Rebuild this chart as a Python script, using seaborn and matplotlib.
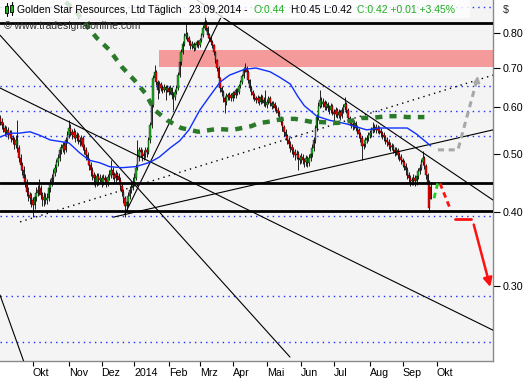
import numpy as np
import pandas as pd
import matplotlib
matplotlib.use("Agg")
import matplotlib.pyplot as plt
import seaborn as sns
from matplotlib.patches import Rectangle

# ---------------- data ----------------
closes = [
0.567,0.561,0.554,0.546,0.550,0.539,0.543,0.533,0.529,0.519,
0.529,0.513,0.493,0.480,0.471,0.457,0.449,0.432,0.427,0.422,
0.419,0.411,0.424,0.431,0.436,0.439,0.427,0.419,0.424,0.419,
0.422,0.439,0.448,0.457,0.466,0.475,0.485,0.493,0.509,0.513,
0.519,0.509,0.529,0.539,0.554,0.546,0.539,0.546,0.533,0.539,
0.529,0.525,0.533,0.515,0.509,0.499,0.489,0.480,0.471,0.462,
0.457,0.449,0.460,0.453,0.457,0.449,0.457,0.453,0.448,0.458,
0.462,0.471,0.462,0.457,0.464,0.460,0.453,0.442,0.432,0.422,
0.410,0.416,0.426,0.436,0.441,0.449,0.457,0.475,0.495,0.509,
0.505,0.497,0.501,0.509,0.505,0.529,0.561,0.606,0.672,0.689,
0.662,0.642,0.657,0.647,0.642,0.649,0.642,0.647,0.637,0.647,
0.629,0.625,0.637,0.647,0.680,0.715,0.744,0.767,0.791,0.797,
0.785,0.773,0.761,0.767,0.756,0.764,0.773,0.764,0.779,0.794,
0.816,0.836,0.816,0.794,0.785,0.773,0.764,0.744,0.721,0.699,
0.672,0.647,0.637,0.622,0.613,0.629,0.625,0.629,0.622,0.634,
0.629,0.642,0.637,0.652,0.662,0.677,0.694,0.699,0.689,0.667,
0.647,0.637,0.629,0.622,0.618,0.622,0.613,0.625,0.618,0.611,
0.606,0.613,0.622,0.611,0.604,0.608,0.599,0.594,0.587,0.576,
0.567,0.556,0.546,0.537,0.529,0.521,0.515,0.509,0.505,0.499,
0.501,0.493,0.489,0.495,0.489,0.485,0.493,0.484,0.493,0.501,
0.513,0.529,0.554,0.578,0.604,0.618,0.608,0.613,0.601,0.608,
0.599,0.594,0.604,0.590,0.585,0.594,0.583,0.590,0.580,0.594,
0.601,0.608,0.594,0.576,0.567,0.563,0.558,0.565,0.554,0.550,
0.541,0.533,0.517,0.521,0.529,0.533,0.539,0.543,0.550,0.554,
0.556,0.550,0.554,0.548,0.543,0.539,0.535,0.529,0.525,0.519,
0.515,0.517,0.509,0.505,0.509,0.499,0.495,0.489,0.485,0.478,
0.471,0.462,0.457,0.451,0.453,0.457,0.451,0.460,0.469,0.475,
0.485,0.493,0.478,0.462,0.449,0.406,0.420]

opens = [
0.575,0.567,0.561,0.554,0.546,0.550,0.539,0.543,0.533,0.529,
0.519,0.529,0.513,0.493,0.480,0.471,0.457,0.449,0.432,0.427,
0.422,0.419,0.411,0.424,0.431,0.436,0.439,0.427,0.419,0.424,
0.419,0.422,0.439,0.448,0.457,0.466,0.475,0.485,0.493,0.509,
0.513,0.519,0.509,0.529,0.539,0.554,0.546,0.539,0.546,0.533,
0.539,0.529,0.525,0.533,0.515,0.509,0.499,0.489,0.480,0.471,
0.462,0.457,0.449,0.460,0.453,0.457,0.449,0.457,0.453,0.448,
0.458,0.462,0.471,0.462,0.457,0.464,0.460,0.453,0.442,0.432,
0.422,0.410,0.416,0.426,0.436,0.441,0.449,0.457,0.475,0.495,
0.509,0.505,0.497,0.501,0.509,0.505,0.529,0.561,0.606,0.672,
0.689,0.662,0.642,0.657,0.647,0.642,0.649,0.642,0.647,0.637,
0.647,0.629,0.625,0.637,0.647,0.680,0.715,0.744,0.767,0.791,
0.797,0.785,0.773,0.761,0.767,0.756,0.764,0.773,0.764,0.779,
0.794,0.816,0.836,0.816,0.794,0.785,0.773,0.764,0.744,0.721,
0.699,0.672,0.647,0.637,0.622,0.613,0.629,0.625,0.629,0.622,
0.634,0.629,0.642,0.637,0.652,0.662,0.677,0.694,0.699,0.689,
0.667,0.647,0.637,0.629,0.622,0.618,0.622,0.613,0.625,0.618,
0.611,0.606,0.613,0.622,0.611,0.604,0.608,0.599,0.594,0.587,
0.576,0.567,0.556,0.546,0.537,0.529,0.521,0.515,0.509,0.505,
0.499,0.501,0.493,0.489,0.495,0.489,0.485,0.493,0.484,0.493,
0.501,0.513,0.529,0.554,0.578,0.604,0.618,0.608,0.613,0.601,
0.608,0.599,0.594,0.604,0.590,0.585,0.594,0.583,0.590,0.580,
0.594,0.601,0.608,0.594,0.576,0.567,0.563,0.558,0.565,0.554,
0.550,0.541,0.533,0.517,0.521,0.529,0.533,0.539,0.543,0.550,
0.554,0.556,0.550,0.554,0.548,0.543,0.539,0.535,0.529,0.525,
0.519,0.515,0.517,0.509,0.505,0.509,0.499,0.495,0.489,0.485,
0.478,0.471,0.462,0.457,0.451,0.453,0.457,0.451,0.460,0.469,
0.475,0.485,0.493,0.478,0.462,0.449,0.440]

highs = [
0.582,0.575,0.568,0.560,0.558,0.556,0.550,0.549,0.540,0.535,
0.540,0.571,0.518,0.500,0.486,0.478,0.463,0.455,0.440,0.433,
0.430,0.424,0.430,0.440,0.445,0.455,0.444,0.432,0.432,0.430,
0.430,0.445,0.455,0.463,0.472,0.482,0.492,0.500,0.515,0.520,
0.525,0.524,0.535,0.548,0.571,0.562,0.552,0.553,0.550,0.545,
0.544,0.535,0.540,0.537,0.520,0.514,0.504,0.494,0.486,0.476,
0.468,0.463,0.466,0.465,0.463,0.462,0.463,0.462,0.458,0.464,
0.470,0.490,0.476,0.468,0.470,0.468,0.465,0.458,0.447,0.437,
0.426,0.422,0.432,0.442,0.450,0.458,0.465,0.482,0.529,0.515,
0.515,0.510,0.508,0.515,0.515,0.535,0.567,0.612,0.680,0.707,
0.695,0.668,0.664,0.662,0.655,0.656,0.655,0.654,0.652,0.654,
0.650,0.636,0.644,0.655,0.688,0.722,0.752,0.775,0.800,0.836,
0.803,0.790,0.779,0.775,0.772,0.771,0.780,0.778,0.786,0.802,
0.825,0.858,0.842,0.822,0.800,0.790,0.779,0.768,0.748,0.725,
0.704,0.676,0.652,0.642,0.628,0.635,0.635,0.636,0.634,0.640,
0.640,0.648,0.648,0.658,0.668,0.684,0.702,0.714,0.704,0.693,
0.671,0.652,0.642,0.634,0.628,0.630,0.627,0.631,0.630,0.624,
0.642,0.620,0.628,0.627,0.616,0.615,0.612,0.605,0.600,0.592,
0.581,0.572,0.561,0.551,0.542,0.534,0.527,0.520,0.515,0.510,
0.508,0.506,0.499,0.502,0.500,0.494,0.499,0.497,0.500,0.508,
0.520,0.536,0.560,0.585,0.612,0.642,0.625,0.622,0.618,0.616,
0.612,0.605,0.611,0.608,0.596,0.600,0.598,0.597,0.595,0.600,
0.608,0.625,0.612,0.598,0.581,0.573,0.568,0.571,0.569,0.560,
0.555,0.546,0.537,0.528,0.535,0.540,0.546,0.550,0.557,0.566,
0.563,0.562,0.560,0.559,0.553,0.548,0.545,0.540,0.534,0.530,
0.525,0.523,0.521,0.514,0.515,0.512,0.504,0.500,0.494,0.490,
0.483,0.476,0.467,0.462,0.459,0.463,0.461,0.466,0.475,0.482,
0.491,0.507,0.497,0.482,0.466,0.452,0.450]

lows = [
0.560,0.552,0.545,0.538,0.540,0.530,0.532,0.525,0.520,0.510,
0.512,0.505,0.485,0.470,0.462,0.450,0.440,0.425,0.418,0.412,
0.408,0.392,0.405,0.418,0.425,0.428,0.420,0.410,0.410,0.412,
0.413,0.418,0.432,0.442,0.450,0.460,0.468,0.478,0.488,0.500,
0.505,0.500,0.504,0.522,0.532,0.538,0.530,0.532,0.525,0.527,
0.520,0.517,0.518,0.508,0.500,0.490,0.480,0.470,0.460,0.452,
0.445,0.440,0.443,0.445,0.447,0.440,0.444,0.446,0.440,0.442,
0.452,0.456,0.455,0.450,0.450,0.453,0.446,0.435,0.425,0.414,
0.392,0.400,0.410,0.420,0.430,0.435,0.442,0.452,0.470,0.488,
0.495,0.488,0.490,0.494,0.496,0.500,0.522,0.555,0.600,0.665,
0.655,0.620,0.635,0.640,0.634,0.636,0.618,0.636,0.630,0.631,
0.620,0.594,0.618,0.632,0.642,0.675,0.708,0.738,0.760,0.783,
0.776,0.765,0.752,0.754,0.748,0.749,0.758,0.756,0.758,0.772,
0.788,0.810,0.808,0.786,0.777,0.765,0.755,0.736,0.713,0.690,
0.664,0.638,0.628,0.613,0.587,0.606,0.617,0.618,0.614,0.616,
0.622,0.623,0.630,0.632,0.646,0.656,0.672,0.688,0.682,0.660,
0.640,0.630,0.620,0.614,0.610,0.611,0.605,0.607,0.611,0.603,
0.600,0.599,0.607,0.604,0.596,0.598,0.592,0.587,0.580,0.569,
0.560,0.548,0.538,0.529,0.521,0.512,0.505,0.500,0.496,0.490,
0.492,0.471,0.481,0.483,0.482,0.477,0.479,0.477,0.478,0.487,
0.496,0.507,0.523,0.548,0.572,0.598,0.600,0.601,0.594,0.595,
0.591,0.586,0.588,0.582,0.570,0.578,0.575,0.576,0.572,0.575,
0.588,0.595,0.587,0.569,0.560,0.555,0.550,0.551,0.547,0.542,
0.533,0.524,0.489,0.510,0.514,0.523,0.526,0.532,0.536,0.543,
0.546,0.543,0.544,0.541,0.536,0.531,0.527,0.521,0.517,0.511,
0.507,0.508,0.502,0.497,0.498,0.492,0.487,0.481,0.477,0.470,
0.462,0.454,0.448,0.443,0.444,0.445,0.443,0.445,0.455,0.463,
0.470,0.480,0.472,0.455,0.442,0.400,0.420]

# moving averages (trading-day index, price)
blue_idx = [0, 6, 12, 19, 25, 32, 40, 44, 51, 57, 64, 70, 78, 87, 96, 102, 109, 115, 121, 128,
            134, 141, 147, 157, 164, 173, 179, 186, 191, 195, 203, 211, 222, 235, 243, 252, 261, 267, 273, 276]
blue_val = [0.535, 0.543, 0.543, 0.546, 0.539, 0.529, 0.525, 0.523, 0.503, 0.489, 0.484, 0.477, 0.475, 0.477,
            0.485, 0.495, 0.513, 0.527, 0.550, 0.594, 0.625, 0.662, 0.680, 0.696, 0.699, 0.689, 0.675, 0.657,
            0.625, 0.604, 0.580, 0.571, 0.563, 0.550, 0.554, 0.554, 0.554, 0.541, 0.525, 0.517]
green_idx = [42, 49, 56, 62, 70, 78, 86, 93, 99, 107, 116, 127, 139, 149, 155, 161, 166, 171, 177, 182,
             189, 194, 200, 205, 216, 221, 227, 232, 238, 243, 249, 255, 261, 266, 272]
green_val = [0.903, 0.868, 0.820, 0.785, 0.750, 0.702, 0.667, 0.634, 0.594, 0.571, 0.554, 0.546, 0.552,
             0.550, 0.554, 0.558, 0.565, 0.567, 0.571, 0.574, 0.574, 0.571, 0.567, 0.567, 0.565, 0.567,
             0.571, 0.576, 0.576, 0.578, 0.580, 0.580, 0.578, 0.578, 0.578]

# horizontal levels
grid_levels = [0.886, 0.652, 0.592, 0.537, 0.394, 0.289, 0.242]
thick_levels = [0.833, 0.448, 0.401]
band_low, band_high, band_start = 0.702, 0.750, 101.8

# trend lines: ((idx0, price0), (idx1, price1))
trend_lines = [((-0.16, 0.647), (316.0, 0.253)),
               ((-0.16, 0.794), (185.8, 0.228)),
               ((126.2, 0.910), (316.0, 0.419)),
               ((80.0, 0.397), (142.2, 0.858)),
               ((72.3, 0.392), (316.0, 0.550)),
               ((-0.16, 0.290), (15.9, 0.221))]
dotted_line = ((12.7, 0.385), (316.0, 0.680))

# projections
grey_path_x = [280.7, 293.5, 306.0]
grey_path_y = [0.509, 0.509, 0.672]
green_proj_x = [278.2, 280.7]
green_proj_y = [0.422, 0.449]
red_proj_x = [282.0, 288.4]
red_proj_y = [0.447, 0.406]
red_level_x = [291.6, 301.9]
red_level_y = 0.389
red_arrow = ((303.2, 0.385), (314.7, 0.296))

HOLIDAYS = ["2013-12-25", "2014-01-01"]
month_starts = ["2013-10-01", "2013-11-01", "2013-12-01", "2014-01-01", "2014-02-01", "2014-03-01",
                "2014-04-01", "2014-05-01", "2014-06-01", "2014-07-01", "2014-08-01", "2014-09-01", "2014-10-01"]
month_labels = ["Okt", "Nov", "Dez", "2014", "Feb", "Mrz", "Apr", "Mai", "Jun", "Jul", "Aug", "Sep", "Okt"]
y_ticks = [0.30, 0.40, 0.50, 0.60, 0.70, 0.80]

# ---------------- plot ----------------
sns.set_style("white")
plt.rcParams['font.family'] = ['Liberation Sans', 'DejaVu Sans']
FS = 7.7
HFS = 7.45

W, H = 530, 380
fig = plt.figure(figsize=(W / 100, H / 100), dpi=100)
fig.patch.set_facecolor("white")
ax = fig.add_axes([0, 19 / H, 493 / W, 361 / H])
ax.set_facecolor("#f4f4f4")
ax.set_yscale("log")
ax.set_xlim(-0.16, 316.0)
ax.set_ylim(0.2245, 0.910)

# band
ax.add_patch(Rectangle((band_start, band_low), 400, band_high - band_low,
                       facecolor="#f59a9a", edgecolor="none", zorder=1))
# grid levels
for lv in grid_levels:
    ax.axhline(lv, color="#1a2fff", lw=1.0, ls=(0, (1, 3)), zorder=1.5)
for lv in thick_levels:
    ax.axhline(lv, color="black", lw=2.0, zorder=6)

# trend lines
for (x0, y0), (x1, y1) in trend_lines:
    ax.plot([x0, x1], [y0, y1], color="black", lw=0.8, zorder=5)
(x0, y0), (x1, y1) = dotted_line
ax.plot([x0, x1], [y0, y1], color="black", lw=1.0, ls=(0, (1, 3)), zorder=5)

# candles
o, h, l, c = map(np.array, (opens, highs, lows, closes))
x = np.arange(len(c))
up = c >= o
ax.vlines(x, l, h, color="black", lw=0.6, zorder=3)
ax.bar(x[up], np.maximum((c - o)[up], 0.002), bottom=o[up], width=0.9,
       color="#1fb51f", edgecolor="black", lw=0.25, zorder=4)
ax.bar(x[~up], (o - c)[~up], bottom=c[~up], width=0.9,
       color="#ff0000", edgecolor="black", lw=0.25, zorder=4)

# moving averages
sns.lineplot(x=blue_idx, y=blue_val, ax=ax, color="#1030ff", lw=1.0, zorder=7)
sns.lineplot(x=green_idx, y=green_val, ax=ax, color="#2a7a2a", lw=3.2,
             linestyle=(0, (1.6, 1.6)), zorder=7)

# projections
ax.plot(grey_path_x, grey_path_y, color="#a8a8a8", lw=2.2, ls=(0, (2, 1.5)), zorder=7)
ax.annotate("", xy=(grey_path_x[-1] + 0.3, grey_path_y[-1] * 1.02),
            xytext=(grey_path_x[-1] - 0.3, grey_path_y[-1] * 0.985),
            arrowprops=dict(arrowstyle="-|>", color="#a8a8a8", lw=1.5, mutation_scale=9), zorder=7)
ax.plot(green_proj_x, green_proj_y, color="#22cc22", lw=2.0, ls=(0, (2, 1.5)), zorder=7)
ax.plot(red_proj_x, red_proj_y, color="#ff1010", lw=2.0, ls=(0, (2, 1.5)), zorder=7)
ax.plot(red_level_x, [red_level_y] * 2, color="#ff1010", lw=2.0, zorder=7)
ax.annotate("", xy=red_arrow[1], xytext=red_arrow[0],
            arrowprops=dict(arrowstyle="-|>", color="#ff1010", lw=1.8, mutation_scale=13), zorder=7)

# axes styling
for s in ["top", "left"]:
    ax.spines[s].set_visible(False)
for s in ["right", "bottom"]:
    ax.spines[s].set_color("#8a8a8a")
    ax.spines[s].set_linewidth(1.0)
ax.yaxis.tick_right()
ax.set_yticks(y_ticks)
ax.set_yticklabels([f"{v:.2f}" for v in y_ticks])
ax.yaxis.set_minor_locator(matplotlib.ticker.NullLocator())
ax.tick_params(axis="y", which="major", direction="out", length=5, width=0.8, pad=2,
               labelsize=FS, colors="black", right=True, left=False)

days = pd.bdate_range("2013-09-02", "2014-12-31")
days = days[~days.isin(pd.to_datetime(HOLIDAYS))]
tick_pos = [int(np.searchsorted(days, pd.Timestamp(m))) for m in month_starts]
ax.set_xticks(tick_pos)
ax.set_xticklabels(month_labels)
for t in ax.get_xticklabels():
    t.set_horizontalalignment("left")
ax.tick_params(axis="x", direction="out", length=3.5, width=0.8, pad=1.5,
               labelsize=FS, colors="black", bottom=True)
ax.set_xlabel("")
ax.set_ylabel("")

fig.text(503 / W, 1 - 10 / H, "$", fontsize=FS, va="center", ha="left")

# header
fig.patches.append(Rectangle((0, 1 - 18 / H), 470 / W, 18 / H, transform=fig.transFigure,
                             facecolor="white", edgecolor="none", alpha=0.8, zorder=20))
for (bx, by0, by1, wy0, wy1) in [(5, 6, 13, 3, 16), (10, 5, 12, 2, 15)]:
    fig.lines.append(plt.Line2D([(bx + 1.5) / W] * 2, [1 - wy1 / H, 1 - wy0 / H],
                                transform=fig.transFigure, color="black", lw=0.8, zorder=21))
    fig.patches.append(Rectangle((bx / W, 1 - by1 / H), 3 / W, (by1 - by0) / H,
                                 transform=fig.transFigure, facecolor="#1fb51f",
                                 edgecolor="black", lw=0.6, zorder=22))
header = [(17, "Golden Star Resources, Ltd Täglich", "black"),
          (189, "23.09.2014 -", "black"),
          (253, "O:0.44", "#1fae1f"),
          (290, "H:0.45", "black"),
          (323, "L:0.42", "black"),
          (357, "C:0.42 +0.01 +3.45%", "#1fae1f")]
for hx, txt, col in header:
    fig.text(hx / W, 1 - 10 / H, txt, fontsize=HFS, color=col, va="center", ha="left", zorder=23)
fig.text(4 / W, 1 - 26 / H, "© www.tradesignalonline.com", fontsize=HFS, color="#303030",
         va="center", ha="left", zorder=23)

fig.savefig("out.png", dpi=100)
